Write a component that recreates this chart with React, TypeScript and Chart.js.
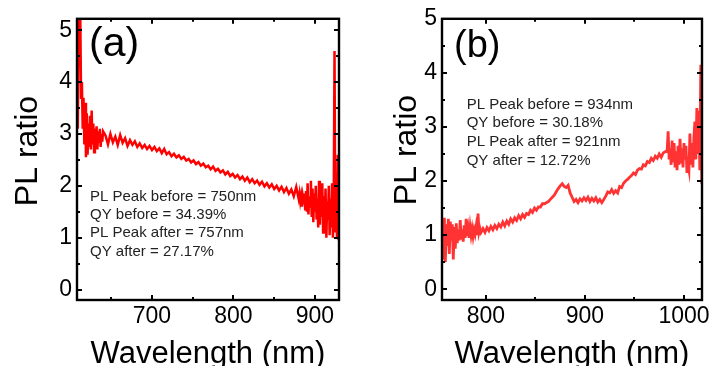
import React, { useEffect, useRef } from "react";
import { Chart, registerables } from "chart.js";

Chart.register(...registerables);

const FONT = "'Liberation Sans', Arial, sans-serif";

// ---- Axis tick values ----
const xTicksA = [650, 700, 750, 800, 850, 900];
const xTicksB = [800, 850, 900, 950, 1000];
const yTicks = [0, 0.5, 1, 1.5, 2, 2.5, 3, 3.5, 4, 4.5, 5];

// ---- Panel (a) data ----
const waveA = [
  609, 610, 611, 612, 613, 614, 615, 616, 617, 618, 619, 620, 621, 622, 623, 624,
  625, 626, 627, 628, 629, 630, 631, 632, 633, 634, 635, 636, 637, 638, 639, 640,
  643, 646, 649, 652, 655, 658, 661, 664, 667, 670, 673, 676, 679, 682, 685, 688,
  691, 694, 697, 700, 703, 706, 709, 712, 715, 718, 721, 724, 727, 730, 733, 736,
  739, 742, 745, 748, 751, 754, 757, 760, 763, 766, 769, 772, 775, 778, 781, 784,
  787, 790, 793, 796, 799, 802, 805, 808, 811, 814, 817, 820, 823, 826, 829, 832,
  835, 838, 841, 844, 847, 850, 853, 856, 859, 862, 865, 868, 871, 874, 877, 880,
  881, 882, 883, 884, 885, 886, 887, 888, 889, 890, 891, 892, 893, 894, 895, 896,
  897, 898, 899, 900, 901, 902, 903, 904, 905, 906, 907, 908, 909, 910, 911, 912,
  913, 914, 915, 916, 917, 918, 919, 920, 921, 922, 923, 924, 925, 926, 927, 928, 929,
];
const ratioA = [
  3.1, 5.4, 4.3, 5.3, 3.7, 4.0, 3.1, 3.7, 2.8, 3.6, 2.55, 3.4, 2.6, 3.2, 2.75, 3.35,
  2.7, 3.45, 2.8, 3.2, 2.65, 3.1, 2.8, 3.15, 2.7, 3.05, 2.85, 3.1, 2.75, 3.0, 2.85, 3.05,
  2.97, 2.8, 3.0, 2.84, 2.95, 2.79, 2.98, 2.83, 2.92, 2.77, 2.88, 2.79, 2.86, 2.75, 2.82, 2.73,
  2.79, 2.71, 2.77, 2.69, 2.75, 2.67, 2.72, 2.63, 2.71, 2.61, 2.65, 2.57, 2.62, 2.55, 2.59, 2.52,
  2.56, 2.49, 2.52, 2.45, 2.49, 2.42, 2.46, 2.39, 2.43, 2.36, 2.39, 2.32, 2.37, 2.29, 2.33, 2.26,
  2.3, 2.22, 2.27, 2.19, 2.23, 2.16, 2.21, 2.13, 2.18, 2.1, 2.16, 2.07, 2.13, 2.05, 2.1, 2.02,
  2.08, 1.99, 2.05, 1.97, 2.03, 1.94, 2.0, 1.91, 1.98, 1.88, 1.96, 1.85, 1.93, 1.8, 1.98, 1.75,
  1.85, 1.7, 1.8, 1.6, 1.78, 1.65, 1.85, 1.55, 1.9, 1.5, 2.05, 1.45, 1.8, 1.6, 2.1, 1.4,
  1.95, 1.3, 1.85, 1.5, 2.0, 1.35, 1.75, 1.2, 2.1, 1.25, 1.9, 1.4, 2.05, 1.1, 1.8, 1.3,
  1.95, 1.0, 1.7, 1.35, 2.0, 1.05, 1.75, 1.2, 2.05, 1.0, 1.6, 4.6, 1.1, 1.9, 1.0, 2.6, 0.95,
];
const notesA = [
  "PL Peak before = 750nm",
  "QY before = 34.39%",
  "PL Peak after = 757nm",
  "QY after = 27.17%",
];

// ---- Panel (b) data ----
const waveB = [
  756, 757, 758, 759, 760, 761, 762, 763, 764, 765, 766, 767, 768, 769, 770, 771,
  772, 773, 774, 775, 776, 777, 778, 779, 780, 781, 782, 783, 784, 785, 786, 787,
  788, 789, 790, 791, 792, 793, 794, 795,
  797, 799, 801, 803, 805, 807, 809, 811, 813, 815, 817, 819, 821, 823, 825, 827,
  829, 831, 833, 835, 837, 839, 841, 843, 845, 847, 849, 851, 853, 855, 857, 859,
  861, 863, 865, 867, 869, 871, 873, 875, 877, 879, 881, 883, 885, 887, 889, 891,
  893, 895, 897, 899, 901, 903, 905, 907, 909, 911, 913, 915, 917, 919, 921, 923,
  925, 927, 929, 931, 933, 935, 937, 939, 941, 943, 945, 947, 949, 951, 953, 955,
  957, 959, 961, 963, 965, 967, 969, 971, 973, 975, 977, 979, 981, 983,
  984, 985, 986, 987, 988, 989, 990, 991, 992, 993, 994, 995, 996, 997, 998, 999,
  1000, 1001, 1002, 1003, 1004, 1005, 1006, 1007, 1008, 1009, 1010, 1011, 1012, 1013,
  1014, 1015, 1016, 1017, 1018,
];
const ratioB = [
  1.3, 0.55, 1.32, 0.5, 1.2, 0.8, 1.3, 0.65, 1.25, 0.9, 1.2, 0.55, 1.15, 0.75, 1.22, 0.85,
  1.1, 0.9, 1.28, 0.92, 1.1, 0.88, 1.18, 0.95, 1.3, 0.98, 1.12, 0.95, 1.15, 1.0, 1.12, 0.98,
  1.1, 1.02, 1.15, 1.0, 1.4, 1.05, 1.12, 1.05,
  1.12, 1.05, 1.14, 1.08, 1.16, 1.1, 1.18, 1.12, 1.2, 1.15, 1.24, 1.17, 1.26, 1.2, 1.3, 1.24,
  1.32, 1.27, 1.36, 1.3, 1.38, 1.33, 1.4, 1.38, 1.46, 1.42, 1.5, 1.46, 1.52, 1.52, 1.58, 1.58,
  1.6, 1.62, 1.66, 1.7, 1.74, 1.8, 1.86, 1.91, 1.95, 1.9, 1.88, 1.92, 1.78, 1.7, 1.62, 1.66,
  1.6, 1.67, 1.63, 1.69, 1.64, 1.7, 1.62, 1.68, 1.63, 1.69, 1.61, 1.66, 1.6, 1.66, 1.72, 1.8,
  1.78, 1.84, 1.77, 1.82, 1.78, 1.9, 1.88, 1.96, 2.0, 2.03, 2.07, 2.1, 2.15, 2.12, 2.2, 2.23,
  2.22, 2.3, 2.28, 2.36, 2.34, 2.42, 2.38, 2.46, 2.42, 2.5, 2.44, 2.52, 2.54, 2.56,
  2.92, 2.4, 2.6, 2.3, 2.75, 2.35, 2.7, 2.25, 2.55, 2.2, 2.65, 2.3, 2.78, 2.35, 2.6, 2.25,
  2.7, 2.4, 2.65, 2.15, 2.3, 2.2, 2.88, 2.3, 2.7, 2.25, 2.8, 3.1, 2.4, 3.35,
  2.5, 3.3, 2.2, 4.15, 1.95,
];
const notesB = [
  "PL Peak before = 934nm",
  "QY before = 30.18%",
  "PL Peak after = 921nm",
  "QY after = 12.72%",
];

const isMultiple = (v: number, m: number) => Math.abs(v / m - Math.round(v / m)) < 1e-6;

const decorPlugin = {
  id: "decor",
  afterDraw(chart: any, _args: any, opts: any) {
    const { ctx, chartArea: a, scales } = chart;
    ctx.save();
    ctx.strokeStyle = "#000";
    ctx.lineWidth = 2;
    ctx.lineCap = "butt";
    const xs = scales.x;
    const ys = scales.y;
    ctx.beginPath();
    xs.ticks.forEach((t: any) => {
      const p = Math.round(xs.getPixelForValue(t.value));
      const len = isMultiple(t.value, 100) ? 5 : 3;
      ctx.moveTo(p, a.bottom);
      ctx.lineTo(p, a.bottom - len);
      ctx.moveTo(p, a.top);
      ctx.lineTo(p, a.top + len);
    });
    ys.ticks.forEach((t: any) => {
      const p = Math.round(ys.getPixelForValue(t.value));
      const len = isMultiple(t.value, 1) ? 5 : 3;
      ctx.moveTo(a.left, p);
      ctx.lineTo(a.left + len, p);
      ctx.moveTo(a.right, p);
      ctx.lineTo(a.right - len, p);
    });
    ctx.stroke();
    ctx.lineWidth = 2.4;
    ctx.strokeRect(a.left, a.top, a.right - a.left, a.bottom - a.top);

    // y title
    ctx.fillStyle = "#000";
    ctx.font = `32px ${FONT}`;
    ctx.textAlign = "center";
    ctx.textBaseline = "alphabetic";
    ctx.save();
    ctx.translate(opts.yTitleX, opts.yTitleY);
    ctx.rotate(-Math.PI / 2);
    ctx.fillText("PL ratio", 0, 0);
    ctx.restore();

    // panel label
    ctx.textAlign = "left";
    ctx.font = `${opts.labelSize}px ${FONT}`;
    ctx.fillText(opts.label, opts.labelX, opts.labelY);

    // notes
    ctx.fillStyle = "#222";
    ctx.font = `15px ${FONT}`;
    opts.notes.forEach((n: string, i: number) => {
      ctx.fillText(n, opts.notesX, opts.notesY + i * opts.notesGap);
    });
    ctx.restore();
  },
};

interface PanelProps {
  xs: number[];
  ys: number[];
  xTicks: number[];
  color: string;
  lineWidth: number;
  xMin: number;
  xMax: number;
  yMin: number;
  yMax: number;
  yAxisWidth: number;
  rightPad: number;
  decor: any;
}

function Panel(p: PanelProps) {
  const ref = useRef<HTMLCanvasElement | null>(null);
  useEffect(() => {
    if (!ref.current) return;
    const points = p.xs.map((x, i) => ({ x, y: p.ys[i] }));
    const chart = new Chart(ref.current, {
      type: "line",
      data: {
        datasets: [
          {
            data: points,
            borderColor: p.color,
            borderWidth: p.lineWidth,
            pointRadius: 0,
            tension: 0,
            fill: false,
          },
        ],
      },
      options: {
        responsive: false,
        animation: false,
        devicePixelRatio: 1,
        layout: { padding: { left: 0, top: 17, right: p.rightPad, bottom: 0 } },
        plugins: {
          legend: { display: false },
          tooltip: { enabled: false },
          decor: p.decor,
        } as any,
        scales: {
          x: {
            type: "linear",
            min: p.xMin,
            max: p.xMax,
            bounds: "data",
            grid: { display: false, drawTicks: false },
            border: { display: false },
            afterBuildTicks: (s: any) => {
              s.ticks = p.xTicks.map((v) => ({ value: v }));
            },
            ticks: {
              autoSkip: false,
              maxRotation: 0,
              padding: 3,
              color: "#000",
              font: { family: FONT, size: 23 },
              callback: (v: any) => (isMultiple(Number(v), 100) ? String(v) : ""),
            },
            title: {
              display: true,
              text: "Wavelength (nm)",
              color: "#000",
              font: { family: FONT, size: 31 },
              padding: { top: 0, bottom: -7 },
            },
            afterFit: (s: any) => {
              s.height = 66;
            },
          },
          y: {
            type: "linear",
            min: p.yMin,
            max: p.yMax,
            bounds: "data",
            grid: { display: false, drawTicks: false },
            border: { display: false },
            afterBuildTicks: (s: any) => {
              s.ticks = yTicks.map((v) => ({ value: v }));
            },
            ticks: {
              autoSkip: false,
              padding: 5,
              color: "#000",
              font: { family: FONT, size: 23 },
              callback: (v: any) => (isMultiple(Number(v), 1) ? String(Math.round(Number(v))) : ""),
            },
            afterFit: (s: any) => {
              s.width = p.yAxisWidth;
            },
          },
        },
      } as any,
      plugins: [decorPlugin],
    });
    return () => chart.destroy();
  }, []);
  return <canvas ref={ref} width={357} height={366} style={{ display: "block" }} />;
}

export default function App() {
  return (
    <div
      style={{
        position: "fixed",
        left: 0,
        top: 0,
        width: 714,
        height: 366,
        overflow: "hidden",
        background: "#fff",
        display: "flex",
      }}
    >
      <Panel
        xs={waveA}
        ys={ratioA}
        xTicks={xTicksA}
        color="#ff0000"
        lineWidth={2.5}
        xMin={608}
        xMax={929.5}
        yMin={-0.2}
        yMax={5.22}
        yAxisWidth={77}
        rightPad={18}
        decor={{
          yTitleX: 37,
          yTitleY: 151,
          label: "(a)",
          labelSize: 41,
          labelX: 89,
          labelY: 56,
          notes: notesA,
          notesX: 90,
          notesY: 200.5,
          notesGap: 18.4,
        }}
      />
      <Panel
        xs={waveB}
        ys={ratioB}
        xTicks={xTicksB}
        color="#ff3333"
        lineWidth={2.8}
        xMin={755.6}
        xMax={1018.2}
        yMin={-0.2}
        yMax={5}
        yAxisWidth={85}
        rightPad={12}
        decor={{
          yTitleX: 58.5,
          yTitleY: 150,
          label: "(b)",
          labelSize: 38,
          labelX: 97,
          labelY: 57,
          notes: notesB,
          notesX: 109.7,
          notesY: 108.7,
          notesGap: 18.6,
        }}
      />
    </div>
  );
}
